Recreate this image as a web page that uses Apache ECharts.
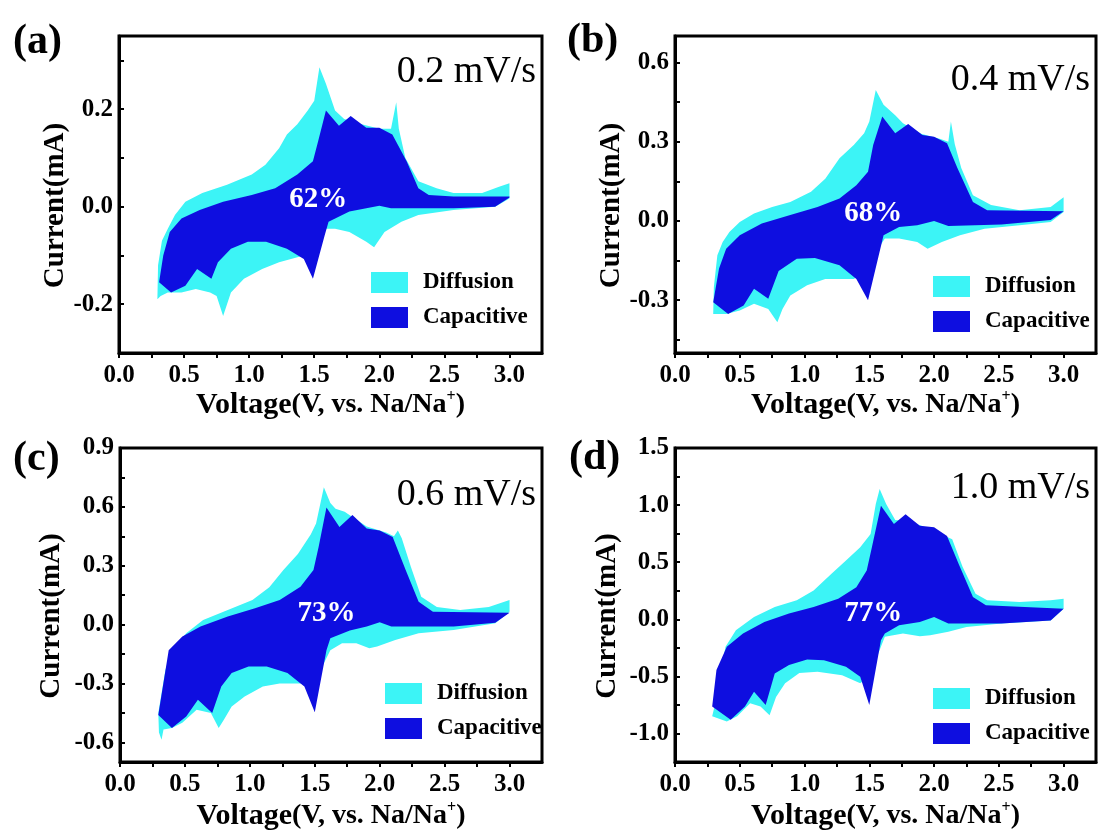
<!DOCTYPE html>
<html>
<head>
<meta charset="utf-8">
<script src="https://cdn.jsdelivr.net/npm/echarts@6.0.0/dist/echarts.min.js"></script>
<style>
  html, body { margin: 0; background: #fff; }
  #chart { width: 1099px; height: 832px; }
</style>
</head>
<body>
<div id="chart"></div>
<script>
// ---- data (V vs. mA) ----
const panelLabels = ['(a)', '(b)', '(c)', '(d)'];
const scanRates = ['0.2 mV/s', '0.4 mV/s', '0.6 mV/s', '1.0 mV/s'];
const capacitivePct = ['62%', '68%', '73%', '77%'];
const pctPos = [[1.53, 0.014], [1.53, 0.028], [1.59, 0.058], [1.53, 0.05]];

const xLabels = [0, 0.5, 1.0, 1.5, 2.0, 2.5, 3.0];
const xTicks = [0, 0.25, 0.5, 0.75, 1.0, 1.25, 1.5, 1.75, 2.0, 2.25, 2.5, 2.75, 3.0];

const yRanges = [[-0.3, 0.35], [-0.5, 0.7], [-0.7, 0.9], [-1.25, 1.5]];
const yLabelsA = [-0.2, 0, 0.2];
const yTicksA = [-0.2, -0.1, 0, 0.1, 0.2, 0.3];
const yLabelsB = [-0.3, 0, 0.3, 0.6];
const yTicksB = [-0.45, -0.3, -0.15, 0, 0.15, 0.3, 0.45, 0.6];
const yLabelsC = [-0.6, -0.3, 0, 0.3, 0.6, 0.9];
const yTicksC = [-0.6, -0.45, -0.3, -0.15, 0, 0.15, 0.3, 0.45, 0.6, 0.75, 0.9];
const yLabelsD = [-1.0, -0.5, 0, 0.5, 1.0, 1.5];
const yTicksD = [-1.0, -0.75, -0.5, -0.25, 0, 0.25, 0.5, 0.75, 1.0, 1.25, 1.5];

const diffusionA = [[0.295,-0.19],[0.30,-0.12],[0.33,-0.07],[0.375,-0.045],[0.43,-0.017],[0.51,0.01],[0.64,0.028],[0.83,0.045],[1.02,0.066],[1.125,0.086],[1.23,0.12],[1.29,0.148],[1.37,0.169],[1.45,0.197],[1.5,0.217],[1.54,0.286],[1.59,0.252],[1.66,0.197],[1.73,0.18],[1.85,0.17],[2.0,0.16],[2.09,0.16],[2.13,0.214],[2.15,0.16],[2.2,0.1],[2.3,0.052],[2.44,0.038],[2.57,0.028],[2.79,0.028],[2.92,0.041],[3.0,0.048],[3.0,0.017],[2.89,0.0],[2.57,-0.007],[2.3,-0.017],[2.17,-0.031],[2.04,-0.052],[1.96,-0.083],[1.9,-0.072],[1.77,-0.052],[1.66,-0.045],[1.58,-0.045],[1.5,-0.08],[1.42,-0.1],[1.23,-0.114],[1.1,-0.128],[0.96,-0.148],[0.86,-0.176],[0.8,-0.224],[0.75,-0.183],[0.7,-0.176],[0.59,-0.169],[0.48,-0.176],[0.375,-0.176],[0.32,-0.183]];
const capacitiveA = [[0.308,-0.155],[0.34,-0.1],[0.39,-0.052],[0.48,-0.024],[0.62,-0.007],[0.8,0.01],[1.02,0.024],[1.2,0.038],[1.37,0.066],[1.49,0.093],[1.53,0.134],[1.59,0.197],[1.69,0.166],[1.78,0.186],[1.9,0.162],[2.0,0.162],[2.1,0.148],[2.21,0.093],[2.3,0.038],[2.38,0.024],[2.57,0.021],[3.0,0.021],[3.0,0.019],[2.89,0.0],[2.57,-0.003],[2.09,-0.003],[2.0,0.002],[1.9,-0.003],[1.77,-0.01],[1.61,-0.031],[1.58,-0.059],[1.49,-0.148],[1.42,-0.107],[1.29,-0.086],[1.13,-0.072],[0.99,-0.072],[0.86,-0.086],[0.76,-0.114],[0.71,-0.148],[0.6,-0.128],[0.51,-0.162],[0.4,-0.176]];

const diffusionB = [[0.295,-0.352],[0.3,-0.25],[0.327,-0.13],[0.368,-0.08],[0.42,-0.042],[0.5,-0.004],[0.61,0.028],[0.75,0.053],[0.89,0.072],[1.05,0.11],[1.16,0.16],[1.27,0.237],[1.38,0.287],[1.46,0.332],[1.5,0.376],[1.55,0.496],[1.61,0.44],[1.7,0.40],[1.76,0.37],[1.9,0.33],[2.05,0.31],[2.11,0.3],[2.13,0.376],[2.16,0.29],[2.21,0.2],[2.3,0.097],[2.44,0.06],[2.66,0.04],[2.9,0.053],[3.0,0.09],[3.0,0.034],[2.9,-0.004],[2.66,-0.016],[2.39,-0.03],[2.2,-0.054],[2.06,-0.08],[1.95,-0.105],[1.87,-0.08],[1.73,-0.067],[1.62,-0.067],[1.55,-0.12],[1.45,-0.2],[1.38,-0.22],[1.16,-0.22],[1.02,-0.244],[0.89,-0.282],[0.83,-0.333],[0.79,-0.384],[0.72,-0.333],[0.61,-0.314],[0.5,-0.339],[0.395,-0.352]];
const capacitiveB = [[0.295,-0.308],[0.34,-0.18],[0.395,-0.105],[0.5,-0.054],[0.67,-0.01],[0.89,0.022],[1.1,0.053],[1.27,0.085],[1.4,0.135],[1.49,0.186],[1.53,0.287],[1.6,0.395],[1.7,0.332],[1.8,0.367],[1.91,0.325],[2.0,0.319],[2.1,0.294],[2.18,0.2],[2.3,0.072],[2.41,0.04],[3.0,0.037],[2.9,0.003],[2.52,-0.014],[2.11,-0.019],[2.0,0.0],[1.87,-0.016],[1.73,-0.023],[1.61,-0.054],[1.49,-0.3],[1.4,-0.22],[1.27,-0.168],[1.08,-0.14],[0.94,-0.143],[0.8,-0.19],[0.72,-0.295],[0.61,-0.257],[0.53,-0.32],[0.41,-0.352]];

const diffusionC = [[0.295,-0.45],[0.35,-0.23],[0.4,-0.13],[0.51,-0.044],[0.64,0.024],[0.83,0.075],[1.02,0.125],[1.15,0.19],[1.26,0.28],[1.37,0.36],[1.47,0.46],[1.51,0.515],[1.57,0.70],[1.62,0.62],[1.66,0.59],[1.73,0.575],[1.77,0.557],[1.9,0.5],[2.05,0.47],[2.11,0.45],[2.14,0.48],[2.17,0.44],[2.24,0.295],[2.32,0.142],[2.44,0.09],[2.62,0.075],[2.84,0.09],[3.0,0.125],[3.0,0.066],[2.89,0.007],[2.57,-0.027],[2.3,-0.044],[2.12,-0.078],[1.98,-0.112],[1.92,-0.12],[1.82,-0.095],[1.71,-0.095],[1.62,-0.13],[1.5,-0.29],[1.42,-0.3],[1.23,-0.3],[1.1,-0.315],[0.96,-0.366],[0.86,-0.417],[0.8,-0.485],[0.76,-0.527],[0.7,-0.45],[0.59,-0.434],[0.48,-0.5],[0.4,-0.527],[0.335,-0.535],[0.32,-0.586],[0.3,-0.55]];
const capacitiveC = [[0.295,-0.46],[0.375,-0.13],[0.48,-0.061],[0.62,-0.01],[0.83,0.041],[1.04,0.083],[1.23,0.125],[1.39,0.193],[1.49,0.278],[1.53,0.397],[1.59,0.597],[1.69,0.498],[1.79,0.558],[1.9,0.49],[2.0,0.48],[2.1,0.447],[2.2,0.278],[2.3,0.117],[2.41,0.066],[3.0,0.061],[2.89,0.01],[2.57,-0.01],[2.09,-0.01],[2.0,0.012],[1.9,-0.01],[1.77,-0.03],[1.62,-0.07],[1.59,-0.13],[1.5,-0.447],[1.42,-0.315],[1.29,-0.247],[1.13,-0.214],[0.99,-0.214],[0.86,-0.247],[0.78,-0.315],[0.71,-0.45],[0.6,-0.383],[0.51,-0.468],[0.4,-0.527]];

const diffusionD = [[0.287,-0.85],[0.306,-0.76],[0.35,-0.47],[0.39,-0.24],[0.47,-0.096],[0.61,0.02],[0.77,0.108],[0.94,0.166],[1.07,0.253],[1.21,0.4],[1.32,0.515],[1.43,0.63],[1.51,0.747],[1.55,1.01],[1.58,1.14],[1.63,1.01],[1.7,0.87],[1.8,0.86],[1.95,0.8],[2.14,0.70],[2.22,0.46],[2.32,0.224],[2.41,0.166],[2.66,0.151],[2.9,0.166],[3.0,0.18],[3.0,0.093],[2.9,-0.01],[2.52,-0.038],[2.25,-0.067],[2.11,-0.11],[1.97,-0.14],[1.89,-0.148],[1.76,-0.125],[1.62,-0.154],[1.5,-0.5],[1.43,-0.56],[1.29,-0.49],[1.1,-0.46],[0.96,-0.47],[0.85,-0.56],[0.78,-0.68],[0.73,-0.84],[0.66,-0.765],[0.58,-0.735],[0.48,-0.85],[0.4,-0.895]];
const capacitiveD = [[0.287,-0.765],[0.32,-0.445],[0.4,-0.24],[0.525,-0.125],[0.69,-0.023],[0.88,0.05],[1.07,0.108],[1.26,0.18],[1.4,0.28],[1.48,0.427],[1.52,0.63],[1.59,0.994],[1.69,0.834],[1.78,0.92],[1.89,0.82],[2.0,0.805],[2.1,0.73],[2.19,0.485],[2.3,0.195],[2.4,0.122],[3.0,0.093],[2.9,-0.01],[2.52,-0.038],[2.11,-0.038],[2.0,0.02],[1.89,-0.023],[1.73,-0.052],[1.62,-0.125],[1.59,-0.183],[1.5,-0.75],[1.43,-0.503],[1.32,-0.416],[1.15,-0.358],[1.02,-0.352],[0.88,-0.4],[0.77,-0.474],[0.7,-0.75],[0.61,-0.634],[0.54,-0.765],[0.43,-0.88]];

const diffusionSets = [diffusionA, diffusionB, diffusionC, diffusionD];
const capacitiveSets = [capacitiveA, capacitiveB, capacitiveC, capacitiveD];
const yLabelSets = [yLabelsA, yLabelsB, yLabelsC, yLabelsD];
const yTickSets = [yTicksA, yTicksB, yTicksC, yTicksD];

// ---- layout ----
const FONT = '"Liberation Serif", "Times New Roman", serif';
const CYAN = '#3cf4f6';
const BLUE = '#0e0ee0';
const grids = [
  { left: 119, top: 36, width: 423, height: 317 },
  { left: 675, top: 36, width: 421, height: 317 },
  { left: 120, top: 448, width: 422, height: 315 },
  { left: 675, top: 448, width: 421, height: 315 }
];
const yNameGap = [47, 47, 54, 53];
const xNameGap = [31, 31, 38, 38];
const legendPos = [[366, 266], [928, 270], [380, 677], [928, 682]];
const labelPos = [[13, 42], [567, 41], [13, 459], [569, 458]];
const ratePos = [72, 80, 495, 488];

const chart = echarts.init(document.getElementById('chart'));

const polygonSeries = (name, pts, idx, color) => ({
  type: 'custom',
  name,
  xAxisIndex: idx,
  yAxisIndex: idx,
  data: pts,
  encode: { x: 0, y: 1 },
  itemStyle: { color },
  silent: true,
  renderItem: (params, api) => {
    if (params.dataIndex !== 0) return null;
    return {
      type: 'polygon',
      shape: { points: pts.map((p) => api.coord(p)) },
      style: { fill: color }
    };
  }
});

const fmt = (v) => v.toFixed(1);

const option = {
  animation: false,
  backgroundColor: '#fff',
  grid: grids.map((g) => ({ ...g, show: true, borderColor: '#000', borderWidth: 3, backgroundColor: 'transparent' })),
  xAxis: grids.map((g, i) => ({
    type: 'value',
    gridIndex: i,
    min: 0,
    max: 3.25,
    name: '{v|Voltage}{p|(V, vs. Na/Na}{s|+}{p|)}',
    nameLocation: 'middle',
    nameGap: xNameGap[i],
    nameTextStyle: {
      rich: {
        v: { fontFamily: FONT, fontWeight: 'bold', fontSize: 30, color: '#000', lineHeight: 32 },
        p: { fontFamily: FONT, fontWeight: 'bold', fontSize: 28, color: '#000', lineHeight: 32 },
        s: { fontFamily: FONT, fontWeight: 'bold', fontSize: 16, color: '#000', lineHeight: 32, verticalAlign: 'top' }
      }
    },
    splitLine: { show: false },
    axisLine: { show: true, onZero: false, lineStyle: { color: '#000', width: 3 } },
    axisTick: { show: true, inside: false, length: 5, customValues: xTicks, lineStyle: { color: '#000', width: 2 } },
    axisLabel: { customValues: xLabels, formatter: fmt, margin: 10, fontFamily: FONT, fontWeight: 'bold', fontSize: 25, color: '#000' }
  })),
  yAxis: grids.map((g, i) => ({
    type: 'value',
    gridIndex: i,
    min: yRanges[i][0],
    max: yRanges[i][1],
    name: 'Current(mA)',
    nameLocation: 'middle',
    nameRotate: 90,
    nameGap: yNameGap[i],
    nameTextStyle: { fontFamily: FONT, fontWeight: 'bold', fontSize: 29, color: '#000', padding: [0, 22, 0, 0] },
    splitLine: { show: false },
    axisLine: { show: true, onZero: false, lineStyle: { color: '#000', width: 3 } },
    axisTick: { show: true, inside: true, length: 5, customValues: yTickSets[i], lineStyle: { color: '#000', width: 2 } },
    axisLabel: { customValues: yLabelSets[i], formatter: fmt, margin: 6, fontFamily: FONT, fontWeight: 'bold', fontSize: 25, color: '#000' }
  })),
  legend: legendPos.map((p) => ({
    data: ['Diffusion', 'Capacitive'],
    orient: 'vertical',
    left: p[0],
    top: p[1],
    icon: 'rect',
    itemWidth: 37,
    itemHeight: 21,
    itemGap: 12,
    selectedMode: false,
    textStyle: { fontFamily: FONT, fontWeight: 'bold', fontSize: 23, color: '#000', padding: [0, 0, 0, 10] }
  })),
  series: grids.flatMap((g, i) => [
    polygonSeries('Diffusion', diffusionSets[i], i, CYAN),
    polygonSeries('Capacitive', capacitiveSets[i], i, BLUE)
  ])
};

chart.setOption(option);

// texts: panel letters, scan rates, capacitive share
const graphics = [];
grids.forEach((g, i) => {
  graphics.push({
    type: 'text', x: labelPos[i][0], y: labelPos[i][1],
    style: { text: panelLabels[i], font: 'bold 42px ' + FONT, fill: '#000', verticalAlign: 'middle' }
  });
  graphics.push({
    type: 'text', x: g.left + g.width - 6, y: ratePos[i],
    style: { text: scanRates[i], font: '38px ' + FONT, fill: '#000', align: 'right', verticalAlign: 'middle' }
  });
  const c = chart.convertToPixel({ gridIndex: i }, pctPos[i]);
  graphics.push({
    type: 'text', x: c[0], y: c[1], z: 100,
    style: { text: capacitivePct[i], font: 'bold 29px ' + FONT, fill: '#fff', align: 'center', verticalAlign: 'middle' }
  });
});
chart.setOption({ graphic: graphics });
</script>
</body>
</html>
